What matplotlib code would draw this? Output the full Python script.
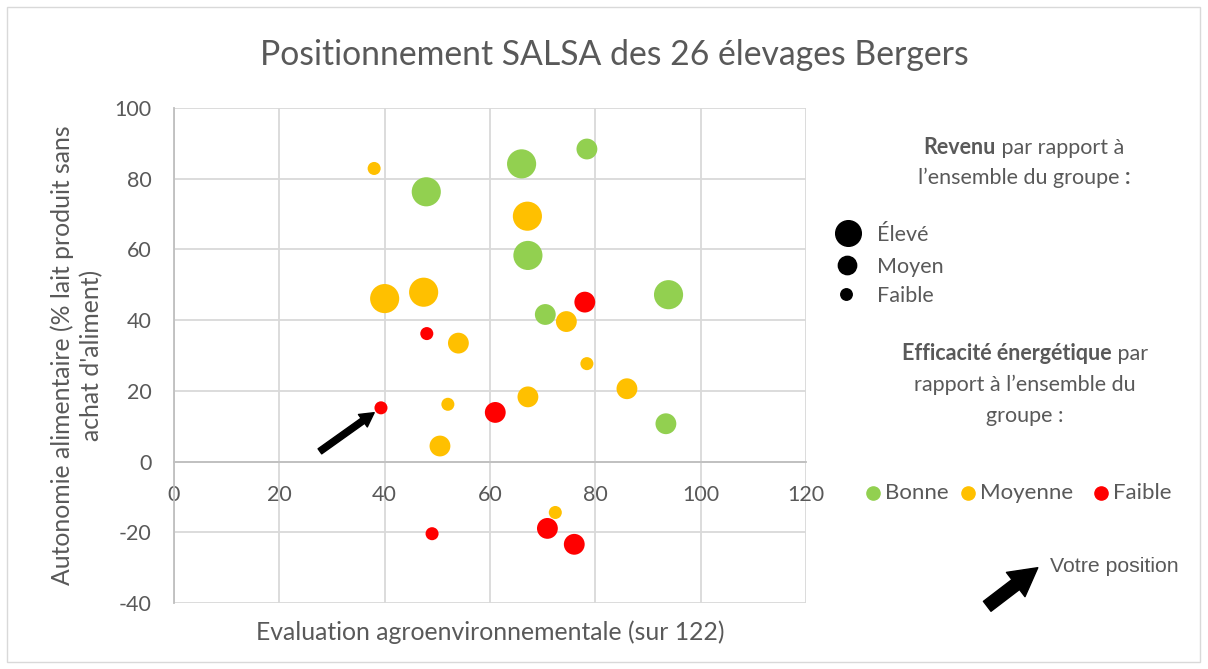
import matplotlib
matplotlib.use("Agg")
import matplotlib.pyplot as plt
from matplotlib.patches import Rectangle, FancyArrowPatch

# ---------------- data ----------------
x_vals = [38.0, 40.0, 47.4, 54.0, 67.1, 74.5, 52.0, 50.5, 78.4, 86.0, 67.2, 72.4,
          47.9, 78.4, 66.0, 67.2, 93.9, 70.5, 93.4,
          48.0, 78.0, 39.3, 61.0, 49.0, 70.9, 76.0]
y_vals = [82.9, 46.1, 47.9, 33.5, 69.4, 39.6, 16.2, 4.4, 27.7, 20.6, 18.3, -14.4,
          76.3, 88.4, 84.2, 58.3, 47.2, 41.6, 10.7,
          36.2, 45.1, 15.2, 13.9, -20.4, -18.9, -23.4]
efficacite = ["Moyenne"] * 12 + ["Bonne"] * 7 + ["Faible"] * 7
revenu = ["Faible", "Élevé", "Élevé", "Moyen", "Élevé", "Moyen", "Faible", "Moyen",
          "Faible", "Moyen", "Moyen", "Faible",
          "Élevé", "Moyen", "Élevé", "Élevé", "Élevé", "Moyen", "Moyen",
          "Faible", "Moyen", "Faible", "Moyen", "Faible", "Moyen", "Moyen"]
votre_position = (39.3, 15.2)

eff_levels = ["Bonne", "Moyenne", "Faible"]
rev_levels = ["Élevé", "Moyen", "Faible"]
x_ticks = [0, 20, 40, 60, 80, 100, 120]
y_ticks = [-40, -20, 0, 20, 40, 60, 80, 100]

# ---------------- style ----------------
eff_colors = {"Bonne": "#92D050", "Moyenne": "#FFC000", "Faible": "#FF0000"}
rev_sizes = {"Élevé": 440, "Moyen": 225, "Faible": 88}
TXT = "#595959"
GRID = "#D9D9D9"
FONT = "Lato"

W, H = 1208, 669
plt.rcParams['font.family'] = [FONT, 'DejaVu Sans']
plt.rcParams['axes.unicode_minus'] = False
fig = plt.figure(figsize=(W / 100, H / 100), dpi=100)

# outer chart border
fig.patches.append(Rectangle((7 / W, 7 / H), 1193 / W, 655 / H, transform=fig.transFigure,
                             fill=False, edgecolor=GRID, lw=1))

ax = fig.add_axes([174 / W, 1 - 603 / H, (806 - 174) / W, (603 - 108) / H])
ax.set_xlim(0, 120)
ax.set_ylim(-40, 100)
ax.set_xticks(x_ticks)
ax.set_yticks(y_ticks)
ax.grid(True, color=GRID, lw=1.3)
ax.set_axisbelow(True)
for s in ["top", "right"]:
    ax.spines[s].set_visible(False)
ax.spines["bottom"].set_position(("data", 0))
ax.spines["bottom"].set_color("#BFBFBF")
ax.spines["left"].set_color("#BFBFBF")
ax.spines["bottom"].set_linewidth(1.3)
ax.spines["left"].set_linewidth(1.3)
ax.tick_params(length=0, colors=TXT, labelsize=15.5)
ax.tick_params(axis="x", pad=17)
ax.tick_params(axis="y", pad=16)

ax.scatter(x_vals, y_vals,
           s=[rev_sizes[r] for r in revenu],
           c=[eff_colors[e] for e in efficacite],
           linewidths=0, zorder=3)

ax.annotate("", xy=votre_position, xytext=(27.7, 2.9),
            arrowprops=dict(arrowstyle="simple,head_length=1.0,head_width=1.1,tail_width=0.45",
                            color="black", shrinkA=0, shrinkB=6), zorder=4)

ax.set_xlabel("Evaluation agroenvironnementale (sur 122)", color=TXT, fontsize=17.8)
ax.xaxis.set_label_coords(0.5, -0.035)
ax.set_ylabel("Autonomie alimentaire (% lait produit sans\nachat d'aliment)", color=TXT,
              fontsize=17.8, linespacing=1.3)
ax.yaxis.set_label_coords(-0.112, 0.5)

fig.text(614 / W, 1 - 55 / H, "Positionnement SALSA des 26 élevages Bergers",
         ha="center", va="center", color=TXT, fontsize=24.3)

renderer = fig.canvas.get_renderer()


def rich_line(cx, cy, parts, size=15.5):
    texts = []
    widths = []
    for t, w in parts:
        tx = fig.text(0, 1 - cy / H, t, fontsize=size, fontweight=w, color=TXT,
                      ha="left", va="center")
        bb = tx.get_window_extent(renderer)
        texts.append(tx)
        widths.append(bb.width)
    total = sum(widths)
    x = cx - total / 2
    for tx, w in zip(texts, widths):
        tx.set_x(x / W)
        x += w


rich_line(1024, 148, [("Revenu", "bold"), (" par rapport à", "normal")])
rich_line(1024, 178, [("l’ensemble du groupe ", "normal"), (":", "bold")])
rich_line(1025, 354, [("Efficacité énergétique", "bold"), (" par", "normal")])
rich_line(1025, 385, [("rapport à l’ensemble du", "normal")])
rich_line(1025, 416, [("groupe :", "normal")])

# size legend
for lvl, yp, xp in zip(rev_levels, [233, 265, 294], [848, 847, 846]):
    fig.lines.append(plt.Line2D([xp / W], [1 - yp / H], marker="o", color="black",
                                markersize=(rev_sizes[lvl] ** 0.5) * 0.88, linestyle="none",
                                transform=fig.transFigure))
    fig.text(877 / W, 1 - (yp + 2) / H, lvl, fontsize=15.5, color=TXT, ha="left", va="center")

# colour legend
for lvl, xd in zip(eff_levels, [873, 968, 1101]):
    fig.lines.append(plt.Line2D([xd / W], [1 - 493 / H], marker="o", color=eff_colors[lvl],
                                markersize=9.5, linestyle="none", transform=fig.transFigure))
    fig.text((xd + 12) / W, 1 - 493 / H, lvl, fontsize=16, color=TXT, ha="left", va="center")

# "Votre position" arrow
fig.patches.append(FancyArrowPatch(
    (985 / W, 1 - 608 / H), (1040 / W, 1 - 566 / H), transform=fig.transFigure,
    arrowstyle="simple,head_length=1.0,head_width=1.1,tail_width=0.45", color="black",
    mutation_scale=20))
fig.text(1050 / W, 1 - 566 / H, "Votre position", fontsize=15.3, color=TXT,
         family=["Liberation Sans"], ha="left", va="center")

fig.savefig("out.png", dpi=100)
